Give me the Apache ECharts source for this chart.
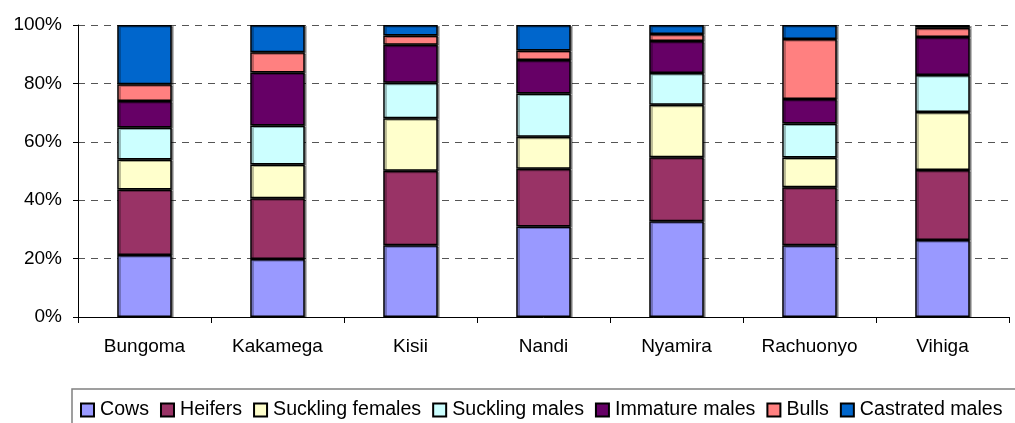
<!DOCTYPE html>
<html>
<head>
<meta charset="utf-8">
<script src="https://cdn.jsdelivr.net/npm/echarts@6/dist/echarts.min.js"></script>
<style>
  html, body { margin: 0; padding: 0; background: #fff; }
  #chart { width: 1015px; height: 423px; }
</style>
</head>
<body>
<div id="chart"></div>
<script>
  const districts = ['Bungoma', 'Kakamega', 'Kisii', 'Nandi', 'Nyamira', 'Rachuonyo', 'Vihiga'];
  const cows = [21.2, 19.9, 24.6, 31.0, 32.8, 24.6, 26.4];
  const heifers = [22.5, 20.8, 25.5, 19.8, 21.9, 19.8, 23.9];
  const sucklingFemales = [10.2, 11.5, 18.0, 10.9, 18.0, 10.2, 19.9];
  const sucklingMales = [11.0, 13.4, 12.1, 14.8, 10.9, 11.7, 12.7];
  const immatureMales = [9.1, 18.1, 13.0, 11.5, 10.9, 8.4, 13.0];
  const bulls = [5.7, 7.0, 3.2, 3.3, 2.4, 20.5, 3.2];
  const castratedMales = [20.3, 9.3, 3.6, 8.7, 3.1, 4.8, 0.9];

  const myChart = echarts.init(document.getElementById('chart'));

  const font = 'Liberation Sans, Arial, sans-serif';

  function makeSeries(name, data, color) {
    return {
      name: name,
      type: 'bar',
      stack: 'total',
      barWidth: '41%',
      data: data,
      itemStyle: {
        color: color,
        borderColor: '#000',
        borderWidth: 1.5,
        shadowColor: 'rgba(0,0,0,0.35)',
        shadowOffsetX: 2,
        shadowOffsetY: 1,
        shadowBlur: 0
      },
      emphasis: { disabled: true }
    };
  }

  const option = {
    animation: false,
    textStyle: { fontFamily: font },
    grid: {
      left: 78,
      right: 6,
      top: 25,
      bottom: 106
    },
    graphic: [
      {
        type: 'rect',
        shape: { x: 72, y: 389, width: 1000, height: 100 },
        style: { fill: 'none', stroke: '#808080', lineWidth: 1.5 },
        z: 0
      }
    ],
    legend: {
      left: 80,
      top: 400,
      width: 935,
      padding: 0,
      itemWidth: 13,
      itemHeight: 13,
      itemGap: 11,
      icon: 'rect',
      textStyle: { fontSize: 19.6, color: '#000', fontFamily: font, padding: [0, 0, 0, 1] },
      data: ['Cows', 'Heifers', 'Suckling females', 'Suckling males', 'Immature males', 'Bulls', 'Castrated males']
    },
    xAxis: {
      type: 'category',
      data: districts,
      axisLine: { lineStyle: { color: '#000', width: 1 } },
      axisTick: { show: true, length: 6, lineStyle: { color: '#000' } },
      axisLabel: { fontSize: 19, color: '#000', margin: 20 }
    },
    yAxis: {
      type: 'value',
      min: 0,
      max: 100,
      interval: 20,
      axisLine: { show: true, lineStyle: { color: '#000', width: 1 } },
      axisTick: { show: true, length: 5, lineStyle: { color: '#000' } },
      axisLabel: { fontSize: 19, color: '#000', margin: 16, formatter: '{value}%' },
      splitLine: { lineStyle: { color: '#555', type: [7, 6], width: 1 } }
    },
    series: [
      makeSeries('Cows', cows, '#9999FF'),
      makeSeries('Heifers', heifers, '#993366'),
      makeSeries('Suckling females', sucklingFemales, '#FFFFCC'),
      makeSeries('Suckling males', sucklingMales, '#CCFFFF'),
      makeSeries('Immature males', immatureMales, '#660066'),
      makeSeries('Bulls', bulls, '#FF8080'),
      makeSeries('Castrated males', castratedMales, '#0066CC')
    ]
  };

  myChart.setOption(option);
</script>
</body>
</html>
